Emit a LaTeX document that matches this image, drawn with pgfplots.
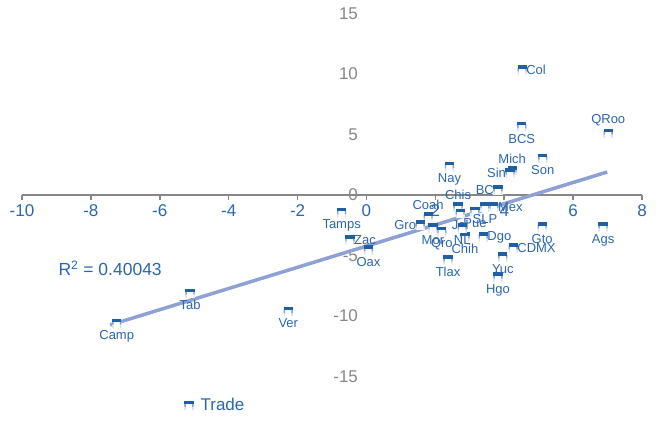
\documentclass[border=0pt]{standalone}
\usepackage{pgfplots}
\pgfplotsset{compat=1.18}
\usepackage{fontspec}
\setmainfont{Liberation Sans}
\definecolor{markblue}{HTML}{1F5FA6}
\definecolor{labelblue}{HTML}{2B66AC}
\definecolor{axisgray}{HTML}{878787}
\definecolor{trend}{HTML}{8FA1D4}
\pgfdeclareplotmark{archsq}{%
  \pgfpathrectangle{\pgfpoint{-\pgfplotmarksize}{-\pgfplotmarksize}}{\pgfpoint{2\pgfplotmarksize}{2\pgfplotmarksize}}%
  \pgfsetfillcolor{white}\pgfusepath{fill}%
  \pgfpathrectangle{\pgfpoint{-\pgfplotmarksize}{-\pgfplotmarksize}}{\pgfpoint{0.3\pgfplotmarksize}{1.4\pgfplotmarksize}}%
  \pgfpathrectangle{\pgfpoint{0.7\pgfplotmarksize}{-\pgfplotmarksize}}{\pgfpoint{0.3\pgfplotmarksize}{1.4\pgfplotmarksize}}%
  \pgfsetfillcolor{markblue!18}\pgfusepath{fill}%
  \pgfpathrectangle{\pgfpoint{-\pgfplotmarksize}{-0.3\pgfplotmarksize}}{\pgfpoint{0.3\pgfplotmarksize}{0.7\pgfplotmarksize}}%
  \pgfpathrectangle{\pgfpoint{0.7\pgfplotmarksize}{-0.3\pgfplotmarksize}}{\pgfpoint{0.3\pgfplotmarksize}{0.7\pgfplotmarksize}}%
  \pgfsetfillcolor{markblue!55}\pgfusepath{fill}%
  \pgfpathrectangle{\pgfpoint{-\pgfplotmarksize}{0.3\pgfplotmarksize}}{\pgfpoint{2\pgfplotmarksize}{0.7\pgfplotmarksize}}%
  \pgfsetfillcolor{markblue}\pgfusepath{fill}%
}
\begin{document}
\begin{tikzpicture}
\useasboundingbox (0,0) rectangle (660bp,422bp);
\begin{axis}[
  at={(22bp,45.5bp)}, anchor=south west,
  scale only axis, width=620bp, height=363bp,
  xmin=-10, xmax=8, ymin=-15, ymax=15,
  axis lines=middle,
  axis line style={-},
  x axis line style={draw=axisgray, line width=2.5bp},
  y axis line style={draw=none},
  xtick={-10,-8,...,8}, ytick={-15,-10,...,15},
  hide obscured x ticks=false, hide obscured y ticks=false,
  tick align=outside, major tick length=5bp,
  xtick style={draw=axisgray, line width=1.5bp},
  ytick style={draw=none},
  /pgf/number format/assume math mode=true,
  xticklabel style={text=labelblue, font=\fontsize{17bp}{20bp}\selectfont, yshift=-1bp},
  yticklabel style={text=axisgray, font=\fontsize{17bp}{20bp}\selectfont},
  clip=false,
  legend style={at={(axis cs:-5.32,-17.4)}, anchor=west, draw=none, fill=none,
    font=\fontsize{17bp}{20bp}\selectfont, text=labelblue, inner sep=1bp},
  legend cell align=left,
]
\addplot[only marks, mark=archsq, mark size=4.6bp,
  point meta=explicit symbolic,
  visualization depends on={value \thisrow{anchor}\as\myanchor},
  nodes near coords,
  nodes near coords style={anchor=\myanchor, text=labelblue, inner xsep=4bp, inner ysep=7bp,
    font=\fontsize{13bp}{15bp}\selectfont},
] table[x=x, y=y, meta=name] {
name x y anchor
Ags 6.87 -2.64 north
BC 3.82 0.41 east
BCS 4.51 5.64 north
Camp -7.25 -10.60 north
Coah 1.79 -1.82 south
Col 4.52 10.33 west
Chis 2.66 -0.99 south
Chih 2.86 -3.47 north
CDMX 4.26 -4.38 west
Dgo 3.39 -3.47 west
Gto 5.10 -2.64 north
Gro 1.56 -2.48 east
Hgo 3.82 -6.78 north
Jal 2.72 -1.50 north
Mex 3.70 -0.99 west
Mich 4.23 1.98 south
Mor 1.93 -2.73 north
Nay 2.41 2.34 north
NL 2.78 -2.73 north
Oax 0.06 -4.55 north
Pue 3.15 -1.38 north
Qro 2.19 -3.03 north
QRoo 7.02 5.10 south
SLP 3.44 -0.99 north
Sin 4.17 1.82 east
Son 5.12 3.03 north
Tab -5.12 -8.12 north
Tamps -0.72 -1.46 north
Tlax 2.37 -5.37 north
Ver -2.27 -9.64 north
Yuc 3.96 -5.12 north
Zac -0.48 -3.72 west
};
\addlegendentry{\hspace{5bp}Trade}
\addplot[forget plot, trend, line width=3.5bp] coordinates {(-7.44,-10.74) (6.99,1.90)};
\node[text=labelblue, font=\fontsize{17.5bp}{20bp}\selectfont] at (axis cs:-7.44,-6.03) {R\textsuperscript{2} = 0.40043};
\end{axis}
\end{tikzpicture}
\end{document}
